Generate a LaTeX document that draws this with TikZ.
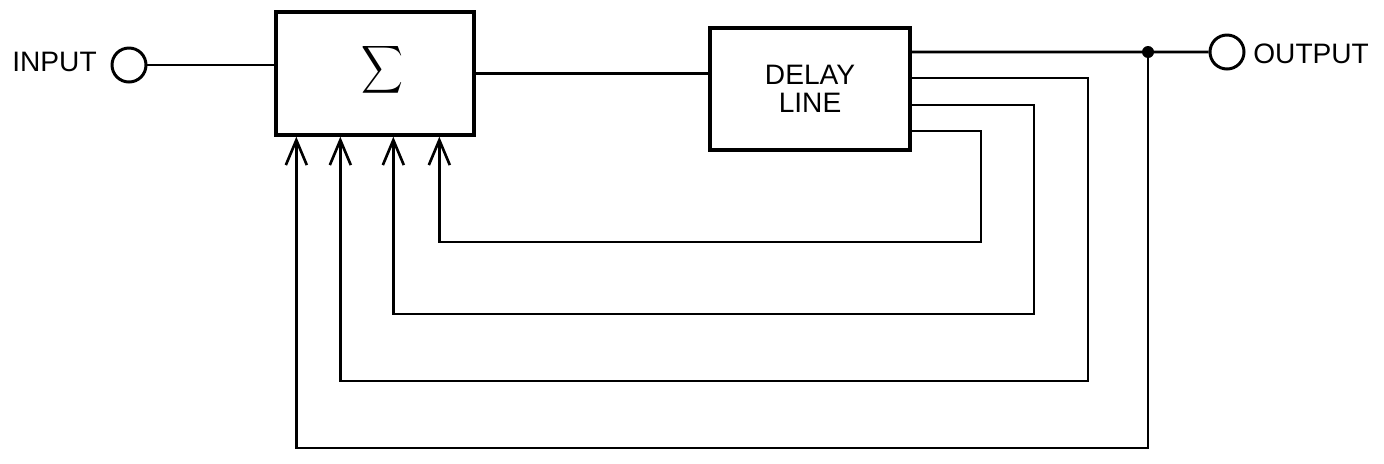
\documentclass[tikz,border=0pt]{standalone}
\usepackage{fontspec}
\setmainfont{Liberation Sans}
\usetikzlibrary{calc,positioning,arrows.meta}

\begin{document}
\begin{tikzpicture}[
    line width=1.5pt,
    blockbox/.style={draw,line width=1.9pt,minimum width=3.96cm,minimum height=2.46cm,inner sep=0pt},
    terminal/.style={draw,circle,line width=1.7pt,minimum size=0.68cm,inner sep=0pt},
    label/.style={draw=none,fill=none,inner sep=0pt,font=\fontsize{16}{16}\selectfont},
    feedback/.style={-{Straight Barb[length=0.5cm,width=0.42cm,line width=1.5pt]}}
  ]
    \useasboundingbox (0,0) rectangle (27.68,-9.26);

    % Input
    \node[terminal] (incircle) at (2.58,-1.3) {};
    \node[label,anchor=east] (input) at (1.96,-1.24) {INPUT};

    % Summer
    \node[blockbox] (sum) at (7.5,-1.47) {};
    \node[label] (sigma) at (7.64,-1.4) {\scalebox{1.65}[1.9]{$\displaystyle\sum$}};
    \draw (incircle.east) -- (incircle.east -| sum.west);

    % Delay line
    \node[blockbox,minimum width=4cm,minimum height=2.44cm,label,align=center,draw] (delay) at (16.2,-1.78) {DELAY\\LINE};
    \draw (sum.east) -- (sum.east -| delay.west);

    % Taps of the delay line
    \coordinate (tap1) at ($(delay.east)+(0,0.74)$);
    \coordinate (tap2) at ($(delay.east)+(0,0.22)$);
    \coordinate (tap3) at ($(delay.east)+(0,-0.32)$);
    \coordinate (tap4) at ($(delay.east)+(0,-0.84)$);

    % Inputs of the summer
    \coordinate (in1) at ($(sum.south west)+(0.44,0)$);
    \coordinate (in2) at ($(sum.south west)+(1.32,0)$);
    \coordinate (in3) at ($(sum.south west)+(2.38,0)$);
    \coordinate (in4) at ($(sum.south west)+(3.30,0)$);

    % Output
    \coordinate (junction) at (22.96,-1.04);
    \node[terminal] (outcircle) at (24.54,-1.04) {};
    \node[label,anchor=west] (output) at (25.04,-1.08) {OUTPUT};
    \draw (tap1) -- (junction) -- (outcircle.west);
    \fill (junction) circle (0.12);

    % Feedback paths
    \draw[feedback] (tap4) -| (19.62,-4.84) -| (in4);
    \draw[feedback] (tap3) -| (20.68,-6.28) -| (in3);
    \draw[feedback] (tap2) -| (21.76,-7.62) -| (in2);
    \draw[feedback] (junction) |- (in1 |- 0,-8.96) -- (in1);
  \end{tikzpicture}
\end{document}
